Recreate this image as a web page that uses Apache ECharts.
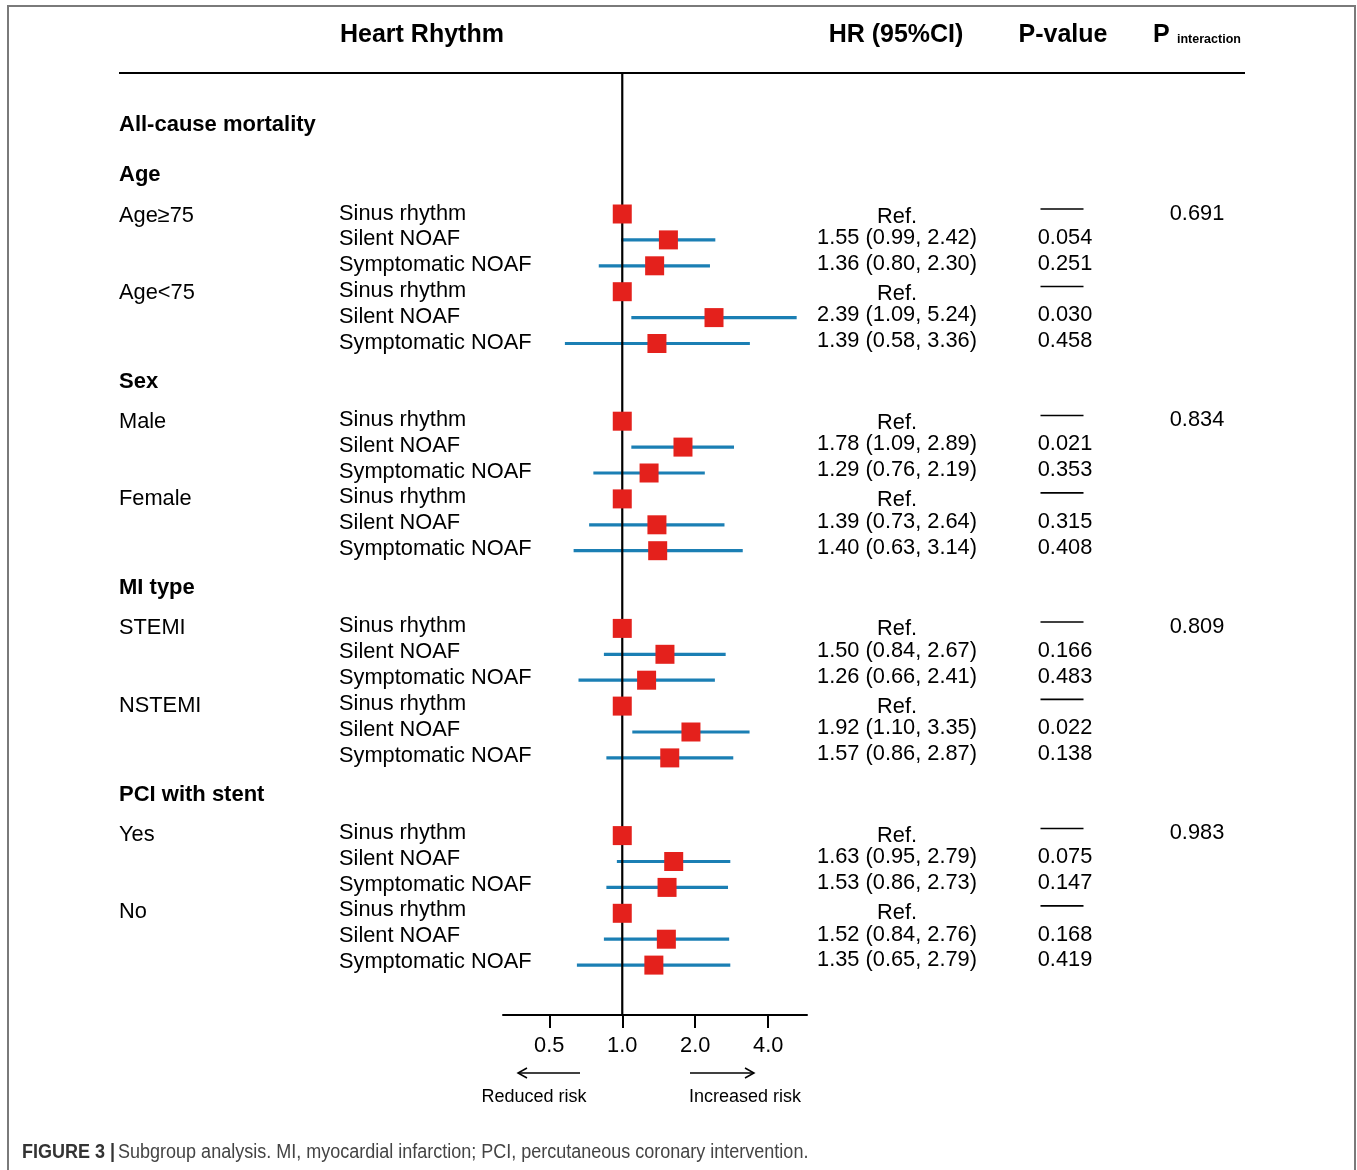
<!DOCTYPE html>
<html>
<head>
<meta charset="utf-8">
<title>Subgroup analysis forest plot</title>
<script src="https://cdn.jsdelivr.net/npm/echarts@6/dist/echarts.min.js"></script>
<style>
  html, body { margin: 0; padding: 0; background: #fff; }
  #chart { width: 1357px; height: 1170px; }
</style>
</head>
<body>
<div id="chart"></div>
<script>
// ---- data ----
const sections = ['Age', 'Sex', 'MI type', 'PCI with stent'];
const subgroups = ['Age≥75', 'Age<75', 'Male', 'Female', 'STEMI', 'NSTEMI', 'Yes', 'No'];
const rhythms = ['Sinus rhythm', 'Silent NOAF', 'Symptomatic NOAF'];

// Silent NOAF vs sinus rhythm, per subgroup
const hrSilent = [1.55, 2.39, 1.78, 1.39, 1.50, 1.92, 1.63, 1.52];
const loSilent = [0.99, 1.09, 1.09, 0.73, 0.84, 1.10, 0.95, 0.84];
const hiSilent = [2.42, 5.24, 2.89, 2.64, 2.67, 3.35, 2.79, 2.76];
const pSilent = ['0.054', '0.030', '0.021', '0.315', '0.166', '0.022', '0.075', '0.168'];

// Symptomatic NOAF vs sinus rhythm, per subgroup
const hrSympt = [1.36, 1.39, 1.29, 1.40, 1.26, 1.57, 1.53, 1.35];
const loSympt = [0.80, 0.58, 0.76, 0.63, 0.66, 0.86, 0.86, 0.65];
const hiSympt = [2.30, 3.36, 2.19, 3.14, 2.41, 2.87, 2.73, 2.79];
const pSympt = ['0.251', '0.458', '0.353', '0.408', '0.483', '0.138', '0.147', '0.419'];

// P for interaction, one per section
const pInteraction = ['0.691', '0.834', '0.809', '0.983'];

// x-axis ticks (hazard ratio, log scale)
const xTicks = [0.5, 1, 2, 4];

// ---- layout ----
const FONT = "'Liberation Sans', Arial, Helvetica, sans-serif";
const TEXT_SIZE = 21.8;
const RED = '#e4211c';
const BLUE = '#1b7fb4';
const PLOT_TOP = 73, PLOT_BOTTOM = 1015, ROW_PX = 25.9, ROW0_PX = 214;
const TEXT_DRIFT = -0.09; // text lines run on a slightly tighter pitch than the markers
const yMin = -(ROW0_PX - PLOT_TOP) / ROW_PX;
const yMax = (PLOT_BOTTOM - ROW0_PX) / ROW_PX;

const COL_GROUP = 119, COL_RHYTHM = 339, COL_HR = 897, COL_P = 1065, COL_PINT = 1197;

// Build table rows: each subgroup has sinus (reference), silent and symptomatic rows
const rows = [];
subgroups.forEach((g, k) => {
  const base = Math.floor(k / 2) * 8 + (k % 2) * 3;
  rows.push({ row: base, k, rhythm: 0, hr: 1, ref: true });
  rows.push({ row: base + 1, k, rhythm: 1, hr: hrSilent[k], lo: loSilent[k], hi: hiSilent[k], p: pSilent[k] });
  rows.push({ row: base + 2, k, rhythm: 2, hr: hrSympt[k], lo: loSympt[k], hi: hiSympt[k], p: pSympt[k] });
});
const ciRows = rows.filter(r => !r.ref);

// Text items placed on the table grid (x in pixels, y in row units, dy in pixels)
const texts = [];
texts.push({ x: COL_GROUP, row: -3.51, text: 'All-cause mortality', bold: true, size: 22, align: 'left', dy: 2 });
sections.forEach((s, i) => {
  texts.push({ x: COL_GROUP, row: i * 8 - 1.58, text: s, bold: true, size: 22, align: 'left', dy: 2 });
  texts.push({ x: COL_PINT, row: i * 8, text: pInteraction[i], align: 'center', dy: 0 });
});
subgroups.forEach((g, k) => {
  const base = Math.floor(k / 2) * 8 + (k % 2) * 3;
  texts.push({ x: COL_GROUP, row: base, text: g, align: 'left', dy: 1.5 });
});
rows.forEach(r => {
  texts.push({ x: COL_RHYTHM, row: r.row, text: rhythms[r.rhythm], align: 'left', dy: -0.5 });
  if (r.ref) {
    texts.push({ x: COL_HR, row: r.row, text: 'Ref.', align: 'center', dy: 2.5 });
  } else {
    texts.push({ x: COL_HR, row: r.row, text: r.hr.toFixed(2) + ' (' + r.lo.toFixed(2) + ', ' + r.hi.toFixed(2) + ')', align: 'center', dy: -2 });
    texts.push({ x: COL_P, row: r.row, text: r.p, align: 'center', dy: -2 });
  }
});
const dashRows = rows.filter(r => r.ref);

const chart = echarts.init(document.getElementById('chart'), null, { renderer: 'canvas' });

const option = {
  backgroundColor: '#fff',
  animation: false,
  grid: [
    { left: 503, top: PLOT_TOP, width: 304, height: PLOT_BOTTOM - PLOT_TOP, outerBoundsMode: 'none' },
    { left: 0, top: PLOT_TOP, width: 1357, height: PLOT_BOTTOM - PLOT_TOP, outerBoundsMode: 'none' }
  ],
  xAxis: [
    {
      type: 'log', logBase: 2, gridIndex: 0, min: 0.3222, max: 5.78, position: 'bottom',
      axisLine: { show: true, onZero: false, lineStyle: { color: '#000', width: 2 } },
      axisTick: { show: true, customValues: xTicks, length: 13, lineStyle: { color: '#000', width: 2 } },
      axisLabel: {
        show: true, customValues: xTicks, margin: 20,
        formatter: v => Number(v).toFixed(1),
        fontFamily: FONT, fontSize: TEXT_SIZE, color: '#000'
      },
      splitLine: { show: false }
    },
    { type: 'value', gridIndex: 1, min: 0, max: 1357, show: false }
  ],
  yAxis: [
    { type: 'value', gridIndex: 0, min: yMin, max: yMax, inverse: true, show: false },
    { type: 'value', gridIndex: 1, min: yMin, max: yMax, inverse: true, show: false }
  ],
  series: [
    // confidence intervals
    {
      type: 'custom', xAxisIndex: 0, yAxisIndex: 0, clip: false, silent: true, z: 2,
      data: ciRows.map(r => [r.lo, r.hi, r.row]),
      encode: { x: [0, 1], y: 2 },
      renderItem: (params, api) => {
        const a = api.coord([api.value(0), api.value(2)]);
        const b = api.coord([api.value(1), api.value(2)]);
        return { type: 'line', shape: { x1: a[0], y1: a[1], x2: b[0], y2: b[1] },
                 style: { stroke: BLUE, lineWidth: 3.2 } };
      }
    },
    // line of no effect (HR = 1)
    {
      type: 'custom', xAxisIndex: 0, yAxisIndex: 0, clip: false, silent: true, z: 3,
      data: [[1, yMin, yMax]],
      encode: { x: 0, y: [1, 2] },
      renderItem: (params, api) => {
        const a = api.coord([api.value(0), api.value(1)]);
        const b = api.coord([api.value(0), api.value(2)]);
        return { type: 'line', shape: { x1: a[0], y1: a[1], x2: b[0], y2: b[1] },
                 style: { stroke: '#000', lineWidth: 2.2 } };
      }
    },
    // point estimates
    {
      type: 'scatter', xAxisIndex: 0, yAxisIndex: 0, clip: false, silent: true, z: 4,
      symbol: 'rect', symbolSize: 19,
      itemStyle: { color: RED, opacity: 1 },
      data: rows.map(r => [r.hr, r.row])
    },
    // table text
    {
      type: 'custom', xAxisIndex: 1, yAxisIndex: 1, clip: false, silent: true, z: 5,
      data: texts.map(t => [t.x, t.row]),
      encode: { x: 0, y: 1 },
      renderItem: (params, api) => {
        const t = texts[params.dataIndex];
        const p = api.coord([api.value(0), api.value(1)]);
        const drift = Math.max(0, t.row) * TEXT_DRIFT;
        return {
          type: 'text', x: p[0], y: p[1] + (t.dy || 0) + drift,
          style: {
            text: t.text, fontFamily: FONT, fontSize: t.size || TEXT_SIZE,
            fontWeight: t.bold ? 'bold' : 'normal', fill: '#000',
            align: t.align, verticalAlign: 'middle'
          }
        };
      }
    },
    // dashes marking the reference rows in the P-value column
    {
      type: 'custom', xAxisIndex: 1, yAxisIndex: 1, clip: false, silent: true, z: 5,
      data: dashRows.map(r => [COL_P - 3, r.row]),
      encode: { x: 0, y: 1 },
      renderItem: (params, api) => {
        const p = api.coord([api.value(0), api.value(1)]);
        const y = p[1] - 5 + api.value(1) * TEXT_DRIFT;
        return { type: 'line', shape: { x1: p[0] - 21.5, y1: y, x2: p[0] + 21.5, y2: y },
                 style: { stroke: '#000', lineWidth: 1.6 } };
      }
    }
  ],
  graphic: [
    // frame
    { type: 'rect', z: 0, shape: { x: 8, y: 6, width: 1347, height: 1220 },
      style: { fill: 'none', stroke: '#7a7a7a', lineWidth: 2 } },
    // header rule
    { type: 'line', z: 10, shape: { x1: 119, y1: PLOT_TOP, x2: 1245, y2: PLOT_TOP },
      style: { stroke: '#000', lineWidth: 2.2 } },
    // column headers
    { type: 'text', x: 340, y: 35.5, style: { text: 'Heart Rhythm', fontFamily: FONT, fontSize: 25, fontWeight: 'bold', fill: '#000', align: 'left', verticalAlign: 'middle' } },
    { type: 'text', x: 896, y: 35.5, style: { text: 'HR (95%CI)', fontFamily: FONT, fontSize: 25, fontWeight: 'bold', fill: '#000', align: 'center', verticalAlign: 'middle' } },
    { type: 'text', x: 1063, y: 35.5, style: { text: 'P-value', fontFamily: FONT, fontSize: 25, fontWeight: 'bold', fill: '#000', align: 'center', verticalAlign: 'middle' } },
    { type: 'text', x: 1153, y: 35.5, style: { text: 'P', fontFamily: FONT, fontSize: 25, fontWeight: 'bold', fill: '#000', align: 'left', verticalAlign: 'middle' } },
    { type: 'text', x: 1177, y: 39.5, style: { text: 'interaction', fontFamily: FONT, fontSize: 12.5, fontWeight: 'bold', fill: '#000', align: 'left', verticalAlign: 'middle' } },
    // direction arrows
    { type: 'polyline', shape: { points: [[580, 1073], [518, 1073]] }, style: { stroke: '#000', lineWidth: 1.5, fill: 'none' } },
    { type: 'polyline', shape: { points: [[527, 1068], [518, 1073], [527, 1078]] }, style: { stroke: '#000', lineWidth: 1.5, fill: 'none' } },
    { type: 'polyline', shape: { points: [[690, 1073], [754, 1073]] }, style: { stroke: '#000', lineWidth: 1.5, fill: 'none' } },
    { type: 'polyline', shape: { points: [[745, 1068], [754, 1073], [745, 1078]] }, style: { stroke: '#000', lineWidth: 1.5, fill: 'none' } },
    { type: 'text', x: 534, y: 1097, style: { text: 'Reduced risk', fontFamily: FONT, fontSize: 18, fill: '#000', align: 'center', verticalAlign: 'middle' } },
    { type: 'text', x: 745, y: 1097, style: { text: 'Increased risk', fontFamily: FONT, fontSize: 18, fill: '#000', align: 'center', verticalAlign: 'middle' } },
    // caption (condensed)
    { type: 'text', x: 22, y: 1152, scaleX: 0.9, style: {
        text: '{b|FIGURE 3 |} {t|Subgroup analysis. MI, myocardial infarction; PCI, percutaneous coronary intervention.}',
        align: 'left', verticalAlign: 'middle',
        rich: {
          b: { fontFamily: FONT, fontSize: 20, fontWeight: 'bold', fill: '#333', color: '#333' },
          t: { fontFamily: FONT, fontSize: 20, fill: '#444', color: '#444' }
        }
      } }
  ]
};

chart.setOption(option);
</script>
</body>
</html>
